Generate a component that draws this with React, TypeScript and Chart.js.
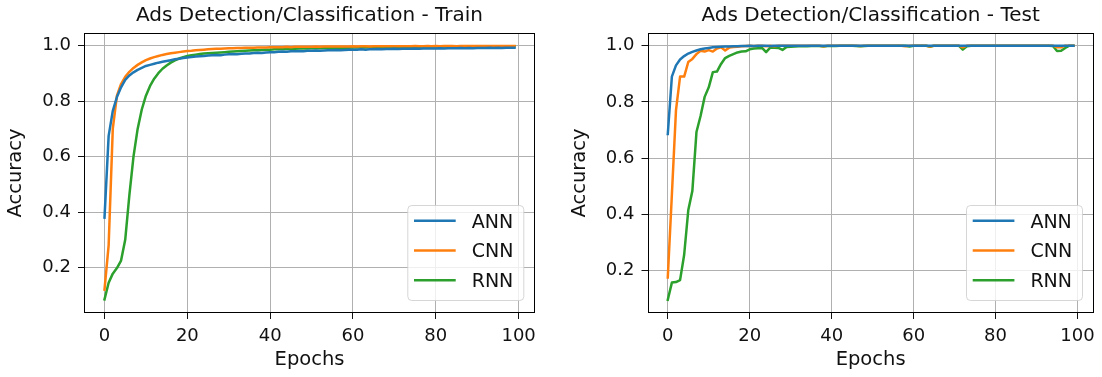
import React, { useEffect, useRef } from "react";
import { Chart, registerables } from "chart.js";

Chart.register(...registerables);

const FONT = "'DejaVu Sans', 'Liberation Sans', sans-serif";

const seriesNames = ["ANN", "CNN", "RNN"];
const seriesColors = ["#1f77b4", "#ff7f0e", "#2ca02c"];
const xTickValues = [0, 20, 40, 60, 80, 100];
const yTickValues = [0.2, 0.4, 0.6, 0.8, 1.0];
const xAxisLabel = "Epochs";
const yAxisLabel = "Accuracy";
const trainTitle = "Ads Detection/Classification - Train";
const testTitle = "Ads Detection/Classification - Test";

const trainANN = [
  0.380, 0.675, 0.765, 0.815, 0.850, 0.877, 0.893, 0.904, 0.913, 0.920,
  0.927, 0.931, 0.935, 0.939, 0.942, 0.945, 0.948, 0.951, 0.953, 0.956,
  0.958, 0.959, 0.961, 0.962, 0.963, 0.965, 0.966, 0.967, 0.966, 0.968,
  0.969, 0.970, 0.969, 0.971, 0.972, 0.972, 0.974, 0.975, 0.974, 0.976,
  0.977, 0.977, 0.978, 0.979, 0.978, 0.980, 0.980, 0.981, 0.980, 0.982,
  0.982, 0.983, 0.982, 0.983, 0.984, 0.984, 0.985, 0.984, 0.985, 0.986,
  0.986, 0.986, 0.987, 0.986, 0.987, 0.987, 0.988, 0.987, 0.988, 0.988,
  0.989, 0.988, 0.989, 0.989, 0.989, 0.990, 0.989, 0.990, 0.990, 0.990,
  0.990, 0.991, 0.990, 0.991, 0.991, 0.991, 0.992, 0.991, 0.992, 0.991,
  0.992, 0.992, 0.992, 0.993, 0.992, 0.993, 0.992, 0.993, 0.993, 0.993,
];

const trainCNN = [
  0.120, 0.280, 0.700, 0.820, 0.862, 0.888, 0.906, 0.920, 0.931, 0.940,
  0.948, 0.954, 0.959, 0.963, 0.967, 0.970, 0.973, 0.975, 0.977, 0.979,
  0.981, 0.982, 0.984, 0.985, 0.986, 0.987, 0.988, 0.989, 0.989, 0.990,
  0.991, 0.991, 0.992, 0.992, 0.993, 0.993, 0.993, 0.994, 0.994, 0.994,
  0.995, 0.995, 0.995, 0.995, 0.996, 0.995, 0.996, 0.996, 0.996, 0.996,
  0.996, 0.997, 0.996, 0.997, 0.997, 0.997, 0.997, 0.997, 0.997, 0.997,
  0.998, 0.997, 0.998, 0.998, 0.997, 0.998, 0.998, 0.998, 0.998, 0.998,
  0.998, 0.998, 0.998, 0.998, 0.998, 0.999, 0.998, 0.998, 0.999, 0.998,
  0.999, 0.998, 0.999, 0.999, 0.999, 0.998, 0.999, 0.999, 0.999, 0.999,
  0.999, 0.999, 0.999, 0.999, 0.999, 0.999, 0.999, 0.999, 0.999, 0.999,
];

const trainRNN = [
  0.085, 0.145, 0.178, 0.198, 0.225, 0.300, 0.460, 0.600, 0.700, 0.770,
  0.820, 0.855, 0.881, 0.901, 0.917, 0.929, 0.939, 0.947, 0.954, 0.959,
  0.963, 0.966, 0.968, 0.970, 0.972, 0.973, 0.974, 0.975, 0.976, 0.977,
  0.978, 0.979, 0.980, 0.981, 0.982, 0.983, 0.984, 0.984, 0.985, 0.986,
  0.986, 0.987, 0.987, 0.988, 0.988, 0.989, 0.989, 0.990, 0.990, 0.990,
  0.991, 0.991, 0.991, 0.992, 0.992, 0.992, 0.993, 0.993, 0.993, 0.993,
  0.994, 0.994, 0.994, 0.994, 0.995, 0.995, 0.995, 0.995, 0.995, 0.995,
  0.996, 0.996, 0.996, 0.996, 0.996, 0.996, 0.996, 0.997, 0.997, 0.997,
  0.997, 0.997, 0.997, 0.997, 0.997, 0.997, 0.998, 0.998, 0.998, 0.998,
  0.998, 0.998, 0.998, 0.998, 0.998, 0.998, 0.998, 0.998, 0.998, 0.998,
];

const testANN = [
  0.686, 0.890, 0.930, 0.951, 0.963, 0.972, 0.978, 0.983, 0.987, 0.990,
  0.992, 0.994, 0.995, 0.996, 0.997, 0.997, 0.998, 0.998, 0.999, 0.999,
  1.000, 0.999, 1.000, 1.000, 1.000, 0.999, 1.000, 1.000, 1.000, 1.000,
  1.000, 1.000, 1.000, 1.000, 1.000, 1.000, 1.000, 1.000, 1.000, 1.000,
  1.000, 1.000, 1.000, 1.000, 1.000, 1.000, 1.000, 1.000, 1.000, 1.000,
  1.000, 1.000, 1.000, 1.000, 1.000, 1.000, 1.000, 1.000, 1.000, 1.000,
  1.000, 1.000, 1.000, 1.000, 1.000, 1.000, 1.000, 1.000, 1.000, 1.000,
  1.000, 1.000, 1.000, 1.000, 1.000, 1.000, 1.000, 1.000, 1.000, 1.000,
  1.000, 1.000, 1.000, 1.000, 1.000, 1.000, 1.000, 1.000, 1.000, 1.000,
  1.000, 1.000, 1.000, 1.000, 1.000, 1.000, 1.000, 1.000, 1.000, 1.000,
];

const testCNN = [
  0.176, 0.470, 0.770, 0.890, 0.890, 0.942, 0.953, 0.970, 0.982, 0.979,
  0.984, 0.979, 0.990, 0.994, 0.983, 0.993, 0.995, 0.996, 0.998, 0.999,
  1.000, 0.999, 1.000, 1.000, 0.998, 1.000, 0.998, 1.000, 1.000, 1.000,
  1.000, 1.000, 1.000, 1.000, 1.000, 1.000, 1.000, 1.000, 0.998, 1.000,
  1.000, 1.000, 1.000, 1.000, 1.000, 1.000, 1.000, 0.999, 1.000, 1.000,
  1.000, 1.000, 1.000, 1.000, 1.000, 1.000, 1.000, 1.000, 0.998, 1.000,
  1.000, 1.000, 1.000, 1.000, 0.997, 1.000, 1.000, 1.000, 1.000, 1.000,
  1.000, 1.000, 0.994, 1.000, 1.000, 1.000, 1.000, 1.000, 1.000, 1.000,
  1.000, 1.000, 1.000, 1.000, 1.000, 1.000, 1.000, 1.000, 1.000, 1.000,
  1.000, 1.000, 1.000, 1.000, 1.000, 0.994, 0.994, 1.000, 1.000, 1.000,
];

const testRNN = [
  0.097, 0.158, 0.160, 0.167, 0.257, 0.415, 0.484, 0.693, 0.750, 0.818,
  0.852, 0.906, 0.908, 0.935, 0.956, 0.964, 0.970, 0.976, 0.979, 0.980,
  0.987, 0.990, 0.991, 0.992, 0.977, 0.993, 0.993, 0.992, 0.985, 0.995,
  0.996, 0.997, 0.998, 0.998, 0.998, 0.999, 0.999, 0.999, 0.997, 0.999,
  0.999, 0.999, 1.000, 1.000, 1.000, 1.000, 0.999, 0.998, 0.999, 1.000,
  1.000, 1.000, 1.000, 1.000, 1.000, 1.000, 1.000, 1.000, 1.000, 0.997,
  1.000, 1.000, 1.000, 1.000, 0.996, 1.000, 1.000, 1.000, 1.000, 1.000,
  1.000, 1.000, 0.986, 0.998, 1.000, 1.000, 1.000, 1.000, 1.000, 1.000,
  1.000, 1.000, 1.000, 1.000, 1.000, 1.000, 1.000, 1.000, 1.000, 1.000,
  1.000, 1.000, 1.000, 1.000, 0.999, 0.981, 0.982, 0.992, 1.000, 1.000,
];

const epochs = trainANN.map((_, i) => i);

const framePlugin = {
  id: "frame",
  afterDatasetsDraw(chart: any) {
    const { ctx, chartArea } = chart;
    const l = Math.round(chartArea.left) + 0.5;
    const t = Math.round(chartArea.top) + 0.5;
    const r = Math.round(chartArea.right) - 0.5;
    const b = Math.round(chartArea.bottom) - 0.5;
    ctx.save();
    ctx.strokeStyle = "#000";
    ctx.lineWidth = 1;
    ctx.strokeRect(l, t, r - l, b - t);
    ctx.restore();
  },
};

const insideLegendPlugin = {
  id: "insideLegend",
  afterDraw(chart: any, _args: any, opts: any) {
    const { ctx, chartArea } = chart;
    const w = opts.width;
    const h = opts.height;
    const x = chartArea.right - opts.right - w;
    const y = chartArea.bottom - opts.bottom - h;
    ctx.save();
    ctx.beginPath();
    ctx.roundRect(x + 0.5, y + 0.5, w, h, 4);
    ctx.fillStyle = "rgba(255,255,255,0.8)";
    ctx.fill();
    ctx.strokeStyle = "rgba(204,204,204,0.8)";
    ctx.lineWidth = 1;
    ctx.stroke();
    ctx.font = `${opts.fontSize}px ${FONT}`;
    ctx.textBaseline = "alphabetic";
    ctx.textAlign = "left";
    chart.data.datasets.forEach((ds: any, i: number) => {
      const rowY = y + opts.firstRow + i * opts.rowGap;
      ctx.strokeStyle = ds.borderColor;
      ctx.lineWidth = ds.borderWidth;
      ctx.beginPath();
      ctx.moveTo(x + opts.lineStart, rowY);
      ctx.lineTo(x + opts.lineEnd, rowY);
      ctx.stroke();
      ctx.fillStyle = "#111";
      ctx.fillText(ds.label, x + opts.textStart, rowY + opts.fontSize * 0.729 / 2);
    });
    ctx.restore();
  },
};

function makeConfig(
  title: string,
  series: number[][],
  yMin: number,
  yMax: number,
  yAxisWidth: number,
  rightPad: number,
  yTitlePad: number
) {
  return {
    type: "line" as const,
    data: {
      datasets: series.map((vals, i) => ({
        label: seriesNames[i],
        data: vals.map((v, j) => ({ x: epochs[j], y: v })),
        borderColor: seriesColors[i],
        backgroundColor: seriesColors[i],
        borderWidth: 2.5,
        pointRadius: 0,
        tension: 0,
        fill: false,
        borderJoinStyle: "round",
        borderCapStyle: "square",
      })),
    },
    options: {
      responsive: false,
      animation: false,
      devicePixelRatio: 1,
      events: [],
      layout: { padding: { left: 0, right: rightPad, top: 0, bottom: 0 } },
      plugins: {
        legend: { display: false },
        tooltip: { enabled: false },
        title: {
          display: true,
          text: title,
          fullSize: false,
          color: "#111",
          font: { family: FONT, size: 20, weight: "normal", lineHeight: 1.2 },
          padding: { top: 4, bottom: 5 },
        },
        insideLegend: {
          width: 116,
          height: 95,
          right: 11.7,
          bottom: 13,
          firstRow: 15.7,
          rowGap: 29.8,
          lineStart: 6.7,
          lineEnd: 48.4,
          textStart: 64.4,
          fontSize: 19,
        },
      },
      scales: {
        x: {
          type: "linear",
          min: -4.95,
          max: 103.95,
          afterBuildTicks: (scale: any) => {
            scale.ticks = xTickValues.map((v) => ({ value: v }));
          },
          afterFit: (scale: any) => {
            scale.height = 64;
          },
          ticks: {
            color: "#111",
            font: { family: FONT, size: 18 },
            padding: 7,
            maxRotation: 0,
            autoSkip: false,
            callback: (v: any) => String(v),
          },
          grid: {
            color: "#b0b0b0",
            lineWidth: 1,
            tickColor: "#111",
            tickLength: 6,
            tickWidth: 1,
            drawTicks: true,
          },
          border: { display: false },
          title: {
            display: true,
            text: xAxisLabel,
            color: "#111",
            font: { family: FONT, size: 19.5, lineHeight: 1.2 },
            padding: { top: 0, bottom: 5 },
          },
        },
        y: {
          type: "linear",
          min: yMin,
          max: yMax,
          afterBuildTicks: (scale: any) => {
            scale.ticks = yTickValues.map((v) => ({ value: v }));
          },
          afterFit: (scale: any) => {
            scale.width = yAxisWidth;
          },
          ticks: {
            color: "#111",
            font: { family: FONT, size: 18 },
            padding: 7,
            autoSkip: false,
            callback: (v: any) => Number(v).toFixed(1),
          },
          grid: {
            color: "#b0b0b0",
            lineWidth: 1,
            tickColor: "#111",
            tickLength: 6,
            tickWidth: 1,
            drawTicks: true,
          },
          border: { display: false },
          title: {
            display: true,
            text: yAxisLabel,
            color: "#111",
            font: { family: FONT, size: 19.5, lineHeight: 1.2 },
            padding: { top: yTitlePad, bottom: 0 },
          },
        },
      },
    },
    plugins: [framePlugin, insideLegendPlugin],
  };
}

function ChartCanvas({ config, left }: { config: any; left: number }) {
  const ref = useRef<HTMLCanvasElement | null>(null);
  useEffect(() => {
    if (!ref.current) return;
    const chart = new Chart(ref.current, config);
    return () => chart.destroy();
  }, [config]);
  return (
    <canvas
      ref={ref}
      width={551}
      height={377}
      style={{ position: "absolute", left, top: 0, width: 551, height: 377 }}
    />
  );
}

const trainConfig = makeConfig(trainTitle, [trainANN, trainCNN, trainRNN], 0.036, 1.046, 84, 16, 4.6);
const testConfig = makeConfig(testTitle, [testANN, testCNN, testRNN], 0.05, 1.045, 96.5, 5, 16.8);

export default function App() {
  return (
    <div
      style={{
        position: "absolute",
        left: 0,
        top: 0,
        width: 1102,
        height: 377,
        background: "#fff",
        overflow: "hidden",
      }}
    >
      <ChartCanvas config={trainConfig} left={0} />
      <ChartCanvas config={testConfig} left={551} />
    </div>
  );
}
